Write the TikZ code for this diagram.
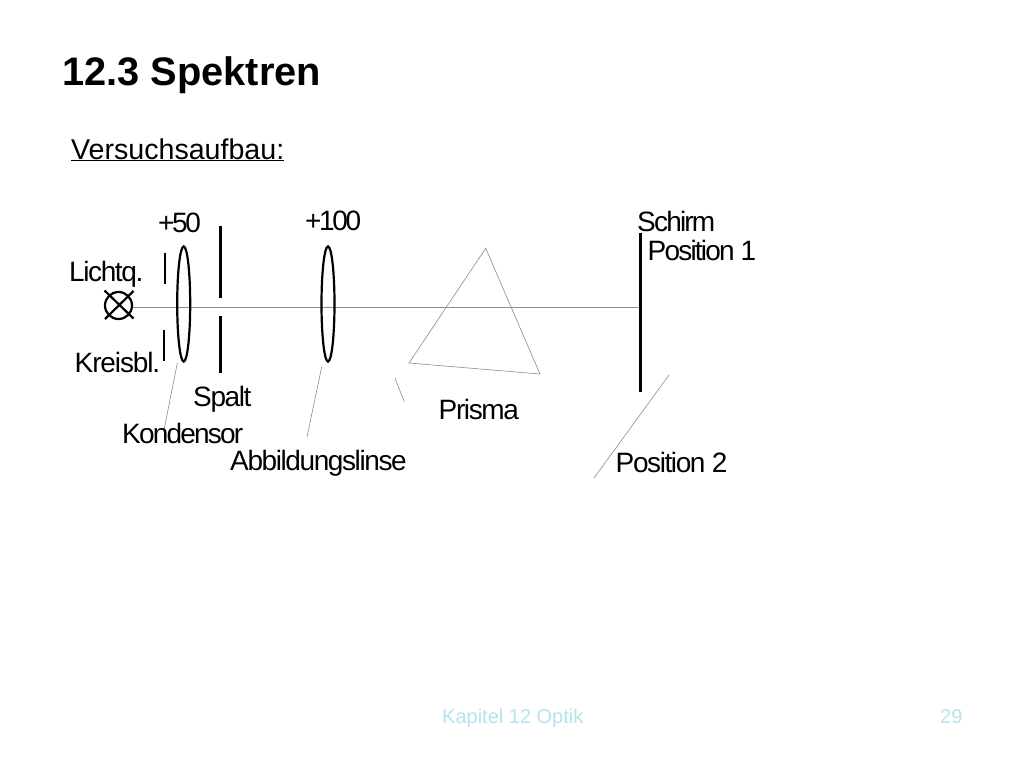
\documentclass[tikz,border=0pt]{standalone}
\usepackage{fontspec}
\setmainfont{Liberation Sans}
\newfontfamily\tightfont[LetterSpace=-5]{Liberation Sans}
\newfontfamily\tightfontb[LetterSpace=-6.5]{Liberation Sans}
\newfontfamily\tightfontc[LetterSpace=-8.5]{Liberation Sans}
\newfontfamily\tightfontd[LetterSpace=-4]{Liberation Sans}
\usetikzlibrary{shapes.geometric,calc}
\definecolor{foot}{HTML}{B5E3EE}
\tikzset{
 lbl/.style={inner sep=0pt,anchor=base west,font=\tightfont\fontsize{28}{28}\selectfont,text=black},
 lblb/.style={lbl,font=\tightfontb\fontsize{28}{28}\selectfont},
 lblc/.style={lbl,font=\tightfontc\fontsize{28}{28}\selectfont},
 lbld/.style={lbl,font=\tightfontd\fontsize{28}{28}\selectfont},
 thin gray/.style={draw=black!45,line width=0.6pt},
 thick bar/.style={draw=black,line width=2.2pt},
 lens/.style={ellipse,draw=black,line width=2.2pt,minimum width=13pt,minimum height=115pt,inner sep=0pt},
 foottxt/.style={inner sep=0pt,anchor=base west,font=\fontsize{20}{20}\selectfont,text=foot}
}
\begin{document}
\begin{tikzpicture}[x=1pt,y=-1pt]
\useasboundingbox (0,0) rectangle (1024,768);
\fill[white] (0,0) rectangle (1024,768);
\node[lbl,font=\bfseries\fontsize{39.8}{40}\selectfont] (title) at (62,85) {12.3 Spektren};
\node[lbl,font=\fontsize{28.6}{29}\selectfont] (sub) at (71,159) {\underline{Versuchsaufbau:}};
% axis endpoints and lamp
\coordinate (lamp) at (118.5,305.5);
\coordinate (lampE) at (133,307.3);
\coordinate (scr) at (640.3,307.3);
\draw[thin gray] (lampE) -- (scr);
\node[circle,draw=black,line width=2.2pt,minimum size=27pt,inner sep=0pt] (lampc) at (lamp) {};
\coordinate (c1) at (104.5,290.5); \coordinate (c2) at (133.5,318.5);
\coordinate (c3) at (133.5,291); \coordinate (c4) at (105,319);
\draw[black,line width=2.2pt] (c1) -- (c2) (c3) -- (c4);
% diaphragm
\coordinate (d1) at (165.3,253); \coordinate (d2) at (165.3,284);
\coordinate (d3) at (164,330); \coordinate (d4) at (164,361);
\draw[thick bar] (d1) -- (d2) (d3) -- (d4);
% lenses
\node[lens] (kond) at (183.7,304) {};
\node[lens] (abb) at (328,304) {};
% slit
\coordinate (s1) at (220.5,226); \coordinate (s2) at (220.5,298);
\coordinate (s3) at (220.5,316); \coordinate (s4) at (220.5,373);
\draw[thick bar] (s1) -- (s2) (s3) -- (s4);
% leaders
\coordinate (k1) at (177.3,363); \coordinate (k2) at (164,430);
\coordinate (a1) at (321.7,366.7); \coordinate (a2) at (307,437);
\draw[thin gray] (k1) -- (k2) (a1) -- (a2);
% prism
\coordinate (p1) at (485.7,248.3); \coordinate (p2) at (409,363); \coordinate (p3) at (540,374);
\draw[thin gray] (p1) -- (p2) -- (p3) -- cycle;
\coordinate (q1) at (395,378.3); \coordinate (q2) at (404.3,401.7);
\draw[thin gray] (q1) -- (q2);
% screen
\coordinate (t1) at (640.3,233); \coordinate (t2) at (640.3,392);
\draw[thick bar,line width=2.8pt] (t1) -- (t2);
\coordinate (u1) at (669,375); \coordinate (u2) at (594,478);
\draw[thin gray] (u1) -- (u2);
% labels
\node[lblc] (l50) at (158,232) {+50};
\node[lblc] (l100) at (305,230) {+100};
\node[lbl] (lq) at (69,281) {Lichtq.};
\node[lbld] (kb) at (74.5,372) {Kreisbl.};
\node[lbl] (sp) at (193,406) {Spalt};
\node[lblb] (ko) at (122,443) {Kondensor};
\node[lbl] (ab) at (230,470) {Abbildungslinse};
\node[lbl] (pr) at (438.5,419) {Prisma};
\node[lblb] (sc) at (637,231) {Schirm};
\node[lblb] (po1) at (647.5,260) {Position 1};
\node[lbl] (po2) at (615.5,472) {Position 2};
\node[foottxt] (f1) at (442,723) {Kapitel 12 Optik};
\node[foottxt] (f2) at (940,723) {29};
\end{tikzpicture}
\end{document}
